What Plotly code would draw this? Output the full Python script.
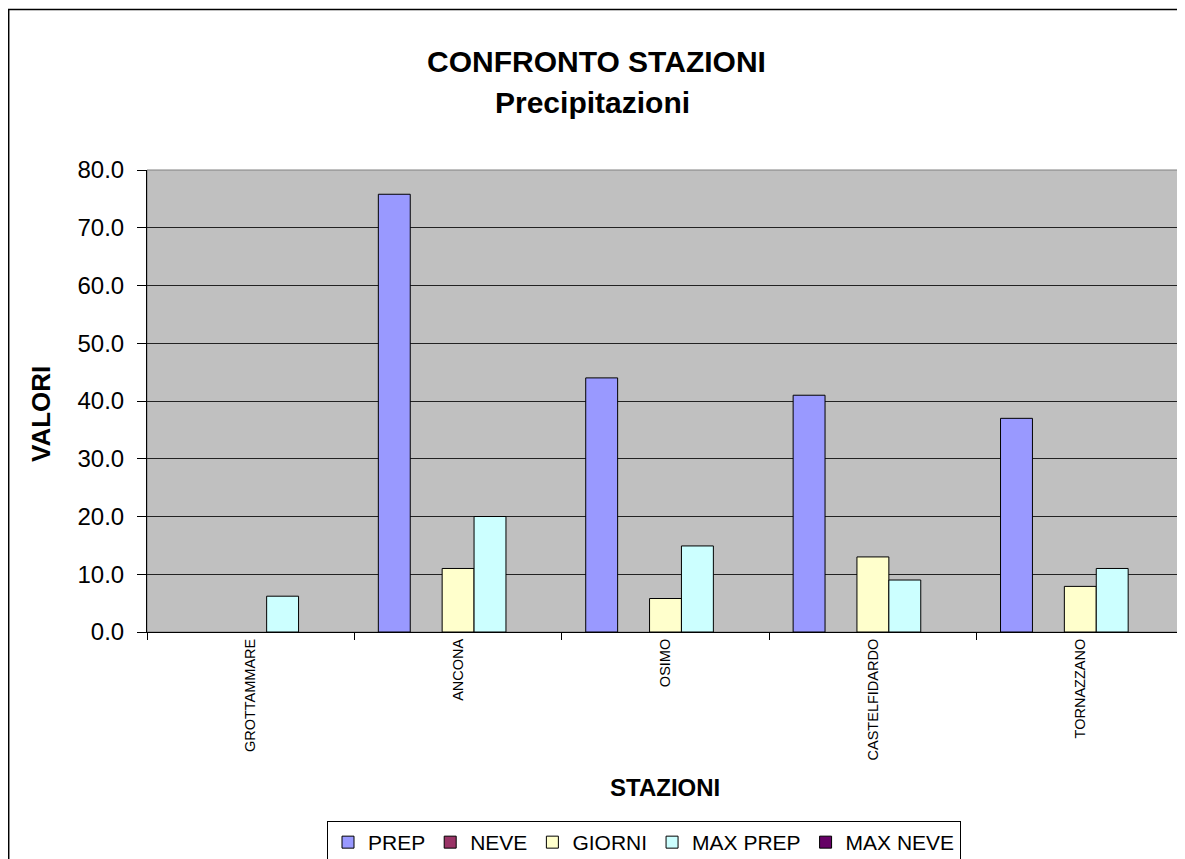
import plotly.graph_objects as go

stations = ["GROTTAMMARE", "ANCONA", "OSIMO", "CASTELFIDARDO", "TORNAZZANO"]
series_names = ["PREP", "NEVE", "GIORNI", "MAX PREP", "MAX NEVE"]
prep = [0.0, 75.8, 44.0, 41.0, 37.0]
neve = [0.0, 0.0, 0.0, 0.0, 0.0]
giorni = [0.0, 11.0, 5.8, 13.0, 7.9]
max_prep = [6.2, 20.0, 14.9, 9.0, 11.0]
max_neve = [0.0, 0.0, 0.0, 0.0, 0.0]
y_ticks = [0, 10, 20, 30, 40, 50, 60, 70, 80]

series_values = [prep, neve, giorni, max_prep, max_neve]
colors = ["#9999FF", "#993366", "#FFFFCC", "#CCFFFF", "#660066"]

OFF = 8  # default page body margin
W, H = 1185 - OFF, 859 - OFF
L, R, T, B = 147 - OFF, 1, 170 - OFF, 227
pw, ph = W - L - R, H - T - B

def px(xs):
    return (xs - OFF - L) / pw

def py(ys):
    return (H - B - (ys - OFF)) / ph

FONT = "Liberation Sans, Arial, sans-serif"

fig = go.Figure()
for name, vals, col in zip(series_names, series_values, colors):
    # zero-height bars are not drawn (as in the original chart)
    shown = [v if v > 0 else None for v in vals]
    fig.add_trace(go.Bar(
        x=stations, y=shown, name=name,
        marker=dict(color=col, line=dict(color="#000000", width=1)),
    ))

fig.update_layout(
    width=W, height=H,
    margin=dict(l=L, r=R, t=T, b=B, autoexpand=False),
    paper_bgcolor="white",
    plot_bgcolor="#C0C0C0",
    barmode="group",
    bargap=1.5 / 6.5,
    bargroupgap=0,
    font=dict(family=FONT, color="black"),
    showlegend=True,
    legend=dict(
        orientation="h", x=px(327), y=py(821), xanchor="left", yanchor="top",
        bgcolor="white", bordercolor="black", borderwidth=1,
        font=dict(size=21, family=FONT, color="black"),
        itemwidth=30, traceorder="normal",
    ),
    xaxis=dict(
        type="category", range=[-0.5, 4.5],
        categoryorder="array", categoryarray=stations,
        showline=True, linecolor="black", linewidth=1,
        ticks="outside", tickson="boundaries", ticklen=7, tickcolor="black",
        tickangle=-90, tickfont=dict(size=14.5, family=FONT, color="black"),
        showgrid=False, automargin=False, fixedrange=True,
    ),
    yaxis=dict(
        range=[0, 80], tickvals=y_ticks, tickformat=".1f",
        showline=True, linecolor="black", linewidth=1,
        ticks="outside", ticklen=9, tickcolor="black",
        ticklabelstandoff=8,
        tickfont=dict(size=24, family=FONT, color="black"),
        showgrid=True, gridcolor="#222222", gridwidth=1,
        zeroline=False, automargin=False, fixedrange=True,
    ),
    shapes=[
        # outer chart border (extends past the crop on right/bottom)
        dict(type="rect", xref="paper", yref="paper",
             x0=px(8.7), x1=px(1200), y0=py(900), y1=py(9.5),
             line=dict(color="black", width=1.5), fillcolor="rgba(0,0,0,0)", layer="below"),
        # plot area border
        dict(type="rect", xref="paper", yref="paper",
             x0=0, x1=1, y0=0, y1=1,
             line=dict(color="#808080", width=1), fillcolor="rgba(0,0,0,0)", layer="below"),
    ],
    annotations=[
        dict(text="<b>CONFRONTO STAZIONI</b>", xref="paper", yref="paper",
             x=px(596), y=py(61), xanchor="center", yanchor="middle", showarrow=False,
             font=dict(size=30, family=FONT, color="black")),
        dict(text="<b>Precipitazioni</b>", xref="paper", yref="paper",
             x=px(592), y=py(102), xanchor="center", yanchor="middle", showarrow=False,
             font=dict(size=30, family=FONT, color="black")),
        dict(text="<b>VALORI</b>", xref="paper", yref="paper",
             x=px(41), y=py(414), xanchor="center", yanchor="middle", showarrow=False,
             textangle=-90, font=dict(size=26, family=FONT, color="black")),
        dict(text="<b>STAZIONI</b>", xref="paper", yref="paper",
             x=px(665), y=py(787), xanchor="center", yanchor="middle", showarrow=False,
             font=dict(size=24, family=FONT, color="black")),
    ],
)

fig.write_html("out.html")
